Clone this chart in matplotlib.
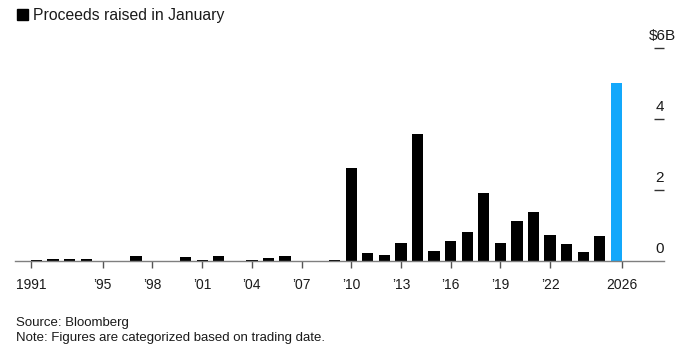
import matplotlib
matplotlib.use("Agg")
import matplotlib.pyplot as plt
from matplotlib.patches import Rectangle
from matplotlib.transforms import blended_transform_factory

plt.rcParams['font.family'] = ['Liberation Sans', 'DejaVu Sans']

years = list(range(1991, 2027))
values = [0.02, 0.05, 0.05, 0.05, 0.01, 0.01, 0.13, 0.01, 0.01, 0.10,
          0.02, 0.14, 0.01, 0.03, 0.09, 0.13, 0.01, 0.01, 0.03, 2.62,
          0.23, 0.17, 0.51, 3.59, 0.27, 0.56, 0.82, 1.92, 0.51, 1.14,
          1.39, 0.72, 0.48, 0.25, 0.71, 5.02]
highlight_year = 2026
tick_years = [1991, 1995, 1998, 2001, 2004, 2007, 2010, 2013, 2016, 2019, 2022, 2026]
tick_labels = ["1991", "\u201995", "\u201998", "\u201901", "\u201904", "\u201907",
               "\u201910", "\u201913", "\u201916", "\u201919", "\u201922", "2026"]
y_ticks = [0, 2, 4, 6]
y_labels = ["0", "2", "4", "$6B"]
title = "Proceeds raised in January"
source = "Source: Bloomberg"
note = "Note: Figures are categorized based on trading date."

W, H = 680, 353
fig = plt.figure(figsize=(W / 100, H / 100), dpi=100)

# axes placement in pixels
left_px, right_px = 15, 663.5
base_px, top_px = 261, 48  # from top
ax = fig.add_axes([left_px / W, (H - base_px) / H, (right_px - left_px) / W,
                   (base_px - top_px) / H])

bar_w = 0.68
colors = ["#13a8fb" if y == highlight_year else "black" for y in years]
ax.bar(years, values, width=bar_w, color=colors, linewidth=0, zorder=2)

ax.set_xlim(1989.70, 2028.85)
ax.set_ylim(0, 6)

for s in ["top", "right", "left"]:
    ax.spines[s].set_visible(False)
ax.spines["bottom"].set_color("#7f7f7f")
ax.spines["bottom"].set_linewidth(1.0)

# x ticks (first and last at bar edges)
pos = []
for y in tick_years:
    if y == tick_years[0]:
        pos.append(y - bar_w / 2)
    elif y == tick_years[-1]:
        pos.append(y + bar_w / 2)
    else:
        pos.append(y)
ax.set_xticks(pos)
ax.set_xticklabels(tick_labels, fontsize=10, color="#1a1a1a")
ax.tick_params(axis="x", length=5, width=1, color="#555555", pad=7)

# y ticks: short in-ticks on the right, labels above
ax.yaxis.tick_right()
ax.set_yticks([t for t in y_ticks if t != 0])
ax.tick_params(axis="y", direction="in", length=7.2, width=1, color="#333333",
               labelright=False, labelleft=False)
trans = blended_transform_factory(fig.transFigure, ax.transData)
for t, lab in zip(y_ticks, y_labels):
    xc = 662.0 if lab.startswith("$") else 659.7
    ax.annotate(lab, xy=(xc / W, t), xycoords=trans, xytext=(0, 6),
                textcoords="offset points", ha="center", va="baseline",
                fontsize=11, color="#1a1a1a", annotation_clip=False)

# title with square
fig.patches.append(Rectangle((17 / W, (H - 20.3) / H), 11 / W, 11 / H,
                             transform=fig.transFigure, color="black"))
fig.text(33 / W, (H - 20.3) / H, title, fontsize=11.3, va="baseline",
         ha="left", color="#1a1a1a")

fig.text(16 / W, (H - 326) / H, source, fontsize=9.55, va="baseline", ha="left",
         color="#1a1a1a")
fig.text(16 / W, (H - 341) / H, note, fontsize=9.55, va="baseline", ha="left",
         color="#1a1a1a")

fig.savefig("out.png", dpi=100)
